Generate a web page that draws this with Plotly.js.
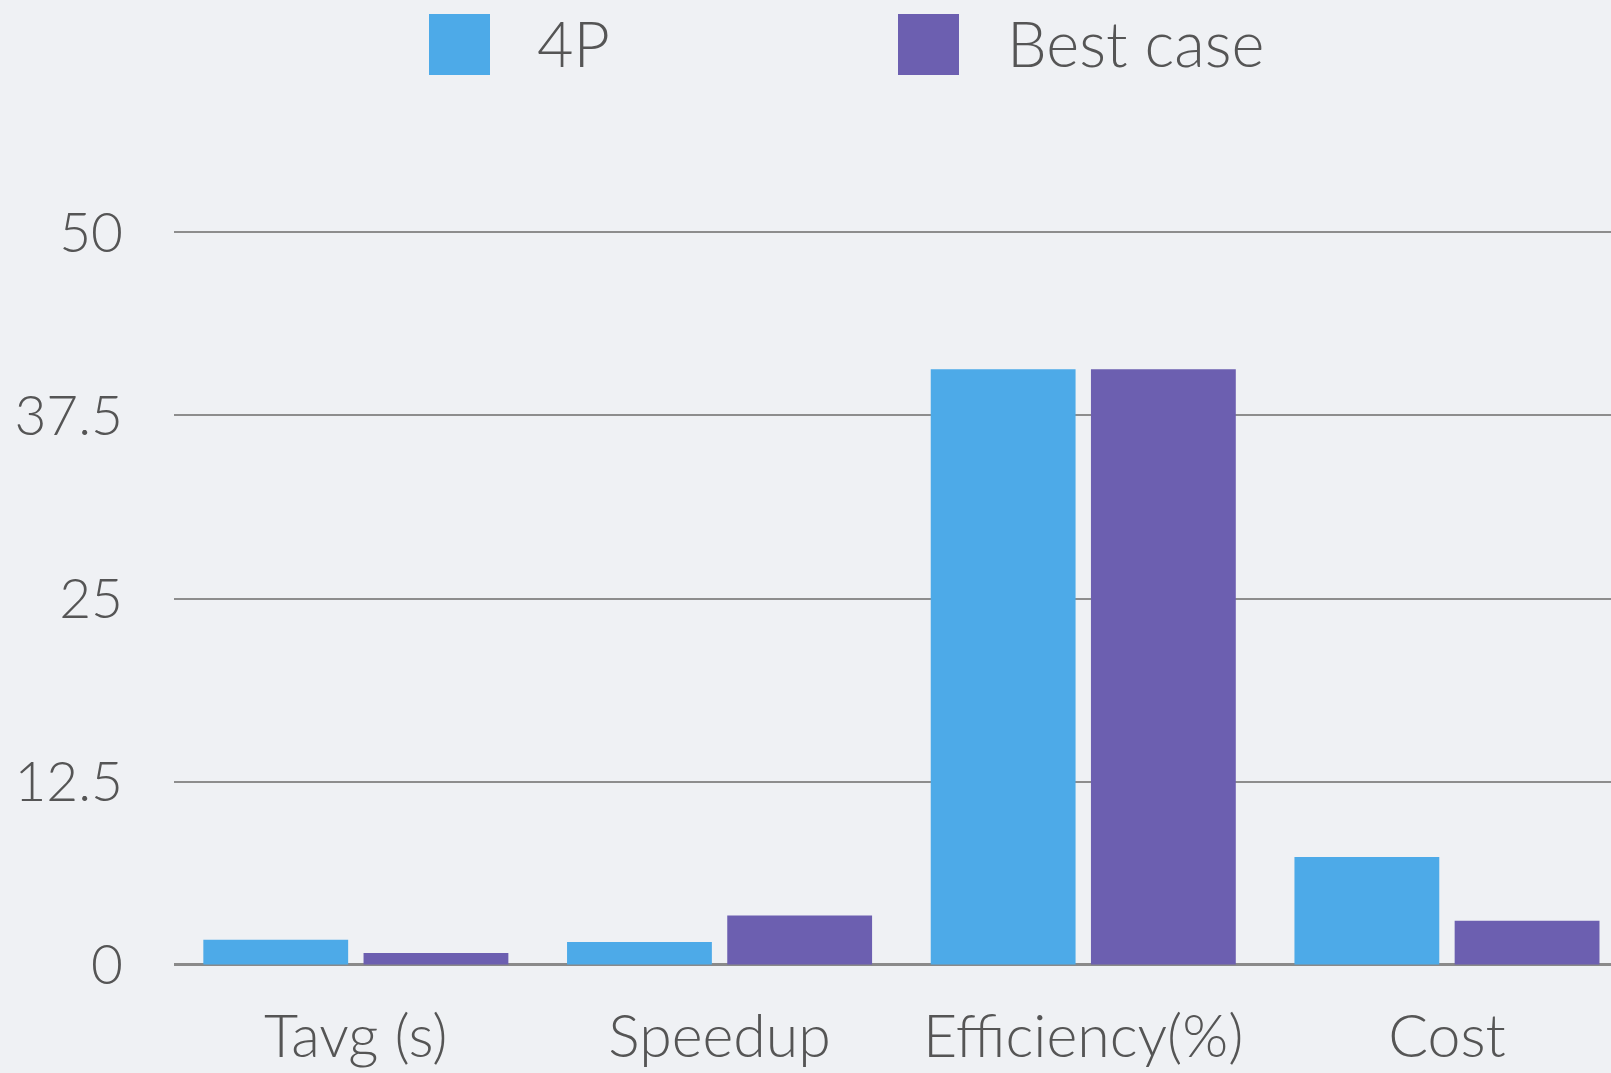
<!DOCTYPE html>
<html>
<head>
<meta charset="utf-8">
<script src="https://cdn.plot.ly/plotly-3.0.1.min.js"></script>
<style>
html,body{margin:0;padding:0;background:#eff1f4;}
#chart{width:1611px;height:1073px;}
</style>
</head>
<body>
<div id="chart"></div>
<script>
// Data
var categories = ["Tavg (s)", "Speedup", "Efficiency(%)", "Cost"];
var seriesNames = ["4P", "Best case"];
var values4P = [1.7, 1.55, 40.65, 7.35];
var valuesBest = [0.8, 3.35, 40.65, 3.0];
var tickValues = [0, 12.5, 25, 37.5, 50];
var tickLabels = ["0", "12.5", "25", "37.5", "50"];

var colors = ["#4daae8", "#6c5fb0"];
var textColor = "#555555";
var fontFamily = "Lato, 'Open Sans', sans-serif";

var traces = [
  {type: "bar", name: seriesNames[0], x: categories, y: values4P,
   marker: {color: colors[0]}, showlegend: false, hoverinfo: "x+y+name"},
  {type: "bar", name: seriesNames[1], x: categories, y: valuesBest,
   marker: {color: colors[1]}, showlegend: false, hoverinfo: "x+y+name"}
];

// Manual legend (large square swatches as in the reference)
var legendLeftPx = [429, 898];
var legendTextPx = [535, 1005];
var plotL = 174, plotW = 1611 - 174, plotT = 86, plotH = 1073 - 86 - 104;
function px2paperX(px){ return (px - plotL) / plotW; }
function px2paperY(py){ return (plotT + plotH - py) / plotH; }
var shapes = [];
var annotations = [];
seriesNames.forEach(function(n, i){
  shapes.push({type: "rect", xref: "paper", yref: "paper", layer: "above",
    x0: px2paperX(legendLeftPx[i]), x1: px2paperX(legendLeftPx[i] + 61),
    y0: px2paperY(75), y1: px2paperY(14),
    fillcolor: colors[i], line: {width: 0}});
  annotations.push({xref: "paper", yref: "paper", showarrow: false,
    x: px2paperX(legendTextPx[i]), y: px2paperY(43),
    xanchor: "left", yanchor: "middle", text: n,
    font: {family: fontFamily, size: 63, color: textColor, weight: 300}});
});

var layout = {
  width: 1611, height: 1073,
  margin: {l: plotL, r: 0, t: plotT, b: 104, pad: 0},
  paper_bgcolor: "#eff1f4",
  plot_bgcolor: "rgba(0,0,0,0)",
  barmode: "group",
  bargap: 0.119,
  bargroupgap: 0.096,
  showlegend: false,
  font: {family: fontFamily, color: textColor, weight: 300},
  xaxis: {
    type: "category",
    range: [-0.5, 3.451],
    showgrid: false, zeroline: false, showline: false,
    ticks: "", ticklabelstandoff: 28,
    tickfont: {family: fontFamily, size: 59, color: textColor, weight: 300},
    fixedrange: true
  },
  yaxis: {
    range: [-0.3, 60],
    tickmode: "array", tickvals: tickValues, ticktext: tickLabels,
    showgrid: true, gridcolor: "#8d8d8d", gridwidth: 2,
    zeroline: true, zerolinecolor: "#8a8a8a", zerolinewidth: 3,
    showline: false, ticks: "", ticklabelstandoff: 50,
    tickfont: {family: fontFamily, size: 55, color: textColor, weight: 300},
    fixedrange: true
  },
  shapes: shapes,
  annotations: annotations
};

Plotly.newPlot("chart", traces, layout, {displayModeBar: false, staticPlot: true});
</script>
</body>
</html>
